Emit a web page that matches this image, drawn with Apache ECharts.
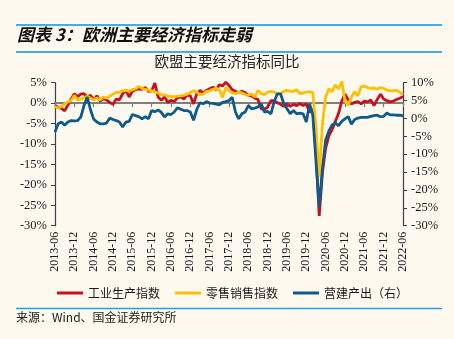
<!DOCTYPE html>
<html>
<head>
<meta charset="utf-8">
<script src="https://cdn.jsdelivr.net/npm/echarts@6/dist/echarts.min.js"></script>
<style>
  html, body { margin: 0; padding: 0; background: #FDF9EF; }
  #chart { width: 454px; height: 339px; }
</style>
</head>
<body>
<div id="chart"></div>
<script>
// Monthly categories, 2013-06 .. 2022-06
const months = [];
for (let i = 0; i < 109; i++) {
  const t = 2013 * 12 + 5 + i;
  const y = Math.floor(t / 12);
  const m = (t % 12) + 1;
  months.push(y + '-' + (m < 10 ? '0' + m : '' + m));
}

// 工业生产指数 (left axis, %)
const industrial = [
  -0.6, -1.0, -1.3, -1.9, -0.5, 1.0, 2.3, 1.6, 2.2, 2.3, 1.5, 1.9,
  0.8, 1.8, 0.5, 1.1, 0.8, 0.2, -0.3, 1.0, 0.8, 2.3, 3.2, 1.5,
  2.9, 3.3, 3.5, 3.4, 3.8, 2.9, 3.0, 4.9, 1.5, 0.7, 1.5, 0.2,
  0.7, 0.4, 1.3, 1.5, 1.0, 2.0, 1.8, -0.2, 2.3, 3.1, 2.5, 3.1,
  3.5, 3.9, 3.3, 4.5, 4.2, 5.1, 4.3, 3.3, 2.9, 2.6, 2.9, 2.6,
  1.9, 1.8, 1.2, 0.9, -1.4, -1.5, -1.0, 0.6, 0.6, 0.1, -0.3, -0.8,
  -0.2, -0.8, -0.3, -0.6, -0.1, -0.6, -0.2, -2.2, -1.5, -12.0, -27.6, -17.0,
  -11.0, -8.0, -6.5, -4.5, -2.5, 0.5, 2.2, 0.8, -0.2, 0.2, 0.4, -0.2,
  0.5, 0.3, 0.8, -0.6, 0.9, 2.2, 1.0, 0.6, 0.3, 0.5, 0.9, 1.2,
  1.6
];

// 零售销售指数 (left axis, %)
const retail = [
  -0.8, -1.3, -0.8, -0.2, 0.3, 0.6, 1.9, 0.8, 1.0, 1.3, 1.7, 1.2,
  0.8, 1.3, 0.8, 1.5, 1.2, 1.7, 2.2, 2.6, 2.7, 3.0, 3.1, 2.9,
  3.3, 3.5, 4.1, 3.6, 3.4, 3.2, 3.0, 2.8, 2.5, 2.1, 2.0, 1.7,
  1.6, 1.6, 1.7, 1.8, 1.9, 2.2, 2.6, 3.0, 2.7, 2.0, 2.2, 2.9,
  3.0, 3.4, 3.6, 3.3, 1.4, 3.8, 3.0, 2.5, 2.3, 2.7, 2.5, 2.1,
  1.9, 2.3, 1.5, 3.1, 2.3, 2.1, 2.7, 2.9, 2.7, 2.3, 2.3, 2.9,
  3.1, 2.9, 2.9, 3.3, 2.3, 2.5, 2.7, 2.8, 2.6, -6.0, -18.0, -5.0,
  1.5, 3.5, 2.8, 4.5, 3.5, 5.3, 0.5, -0.5, 1.5, 2.8, 1.8, 4.0,
  4.2, 3.8, 3.6, 3.7, 3.4, 3.8, 3.6, 3.2, 3.0, 3.0, 3.1, 2.7,
  2.1
];

// 营建产出 (right axis, %)
const construction = [
  -3.8, -1.5, -1.0, -1.9, -1.0, -0.6, -0.7, -0.6, 0.4, 3.6, 6.0, 2.5,
  -0.2, -1.0, -1.5, -1.5, -1.3, 0.1, -0.3, -0.6, -1.0, -2.4, -1.0, -0.8,
  1.1, 0.8, 0.5, -0.1, 0.5, -0.1, 2.2, 1.9, 2.4, 1.7, 0.4, 1.3,
  1.1, 1.8, 3.0, 2.6, 2.2, 2.2, 1.8, -0.5, 2.5, 4.4, 4.1, 4.7,
  4.3, 4.2, 4.0, 3.8, 4.5, 4.7, 5.0, 5.9, 1.8, -0.1, 1.3, 1.8,
  3.6, 2.7, 2.9, 3.2, 4.1, 1.8, 2.0, 1.3, 4.6, 6.9, 6.9, 4.1,
  2.7, 1.3, 2.2, 1.3, 1.5, 1.3, -1.0, 4.1, 1.0, -12.0, -24.8, -14.0,
  -6.0, -3.5, -1.8, -1.3, -2.0, -0.8, -0.1, 0.5, -1.6, -0.3, 0.1, 0.3,
  0.3, 0.3, 0.6, 0.8, 0.9, 0.5, 0.6, 1.5, 1.0, 1.0, 0.9, 0.9,
  0.7
];

const seriesNames = ['工业生产指数', '零售销售指数', '营建产出（右）'];
const seriesColors = ['#C8101E', '#FFC000', '#0F5A8C'];

const serif = '"Liberation Serif", "Times New Roman", serif';
const cjk = '"Noto Sans CJK SC", sans-serif';
const axisColor = '#404040';

const chart = echarts.init(document.getElementById('chart'), null, { renderer: 'canvas' });

const pctLabel = {
  formatter: v => v + '%',
  fontFamily: serif,
  fontSize: 12.5,
  color: '#1a1a1a',
  margin: 8
};

chart.setOption({
  backgroundColor: '#FDF9EF',
  animation: false,
  grid: { left: 55, right: 51, top: 82.7, bottom: 113.3 },
  legend: {
    left: 52,
    top: 282,
    icon: 'rect',
    itemWidth: 26,
    itemHeight: 3,
    itemGap: 15,
    data: seriesNames,
    textStyle: { fontFamily: cjk, fontSize: 12, color: '#1a1a1a' }
  },
  xAxis: [
    {
      type: 'category',
      data: months,
      boundaryGap: false,
      position: 'bottom',
      axisLine: { show: false, onZero: false },
      axisTick: { show: false },
      axisLabel: {
        interval: 5,
        rotate: 90,
        fontFamily: serif,
        fontSize: 12,
        color: '#1a1a1a',
        margin: 6
      },
      splitLine: { show: false }
    },
    {
      type: 'category',
      data: months,
      boundaryGap: false,
      position: 'bottom',
      axisLine: { show: true, onZero: true, onZeroAxisIndex: 0, lineStyle: { color: '#7f7f7f', width: 1.8 } },
      axisTick: { show: true, interval: 5, length: 4, lineStyle: { color: '#7f7f7f', width: 1.2 } },
      axisLabel: { show: false },
      splitLine: { show: false }
    }
  ],
  yAxis: [
    {
      type: 'value',
      position: 'left',
      min: -30, max: 5, interval: 5,
      axisLine: { show: true, lineStyle: { color: axisColor, width: 1.2 } },
      axisTick: { show: true, length: 4, lineStyle: { color: axisColor } },
      splitLine: { show: false },
      axisLabel: pctLabel
    },
    {
      type: 'value',
      position: 'right',
      min: -30, max: 10, interval: 5,
      axisLine: { show: true, lineStyle: { color: axisColor, width: 1.2 } },
      axisTick: { show: true, length: 4, lineStyle: { color: axisColor } },
      splitLine: { show: false },
      axisLabel: pctLabel
    }
  ],
  series: [
    { name: seriesNames[0], data: industrial, yAxisIndex: 0 },
    { name: seriesNames[1], data: retail, yAxisIndex: 0 },
    { name: seriesNames[2], data: construction, yAxisIndex: 1 }
  ].map((s, i) => Object.assign({
    type: 'line',
    xAxisIndex: 0,
    symbol: 'none',
    showSymbol: false,
    clip: false,
    color: seriesColors[i],
    lineStyle: { color: seriesColors[i], width: 2.8 },
    z: 2 + i
  }, s)),
  graphic: [
    { type: 'line', shape: { x1: 16, y1: 25, x2: 442, y2: 25 }, style: { stroke: '#45ADE6', lineWidth: 2 } },
    { type: 'line', shape: { x1: 16, y1: 52, x2: 442, y2: 52 }, style: { stroke: '#45ADE6', lineWidth: 2 } },
    { type: 'line', shape: { x1: 16, y1: 308.5, x2: 442, y2: 308.5 }, style: { stroke: '#2A9FE0', lineWidth: 1.5 } },
    {
      type: 'text', left: 17, top: 26,
      style: { text: '图表 3：欧洲主要经济指标走弱', font: 'italic bold 17px "Noto Sans CJK SC"', fill: '#111' }
    },
    {
      type: 'text', left: 'center', top: 54,
      style: { text: '欧盟主要经济指标同比', font: '14.5px "Noto Sans CJK SC"', fill: '#222' }
    },
    {
      type: 'text', left: 16, top: 311,
      style: { text: '来源：Wind、国金证券研究所', font: '12px "Noto Sans CJK SC"', fill: '#222' }
    }
  ]
});
</script>
</body>
</html>
